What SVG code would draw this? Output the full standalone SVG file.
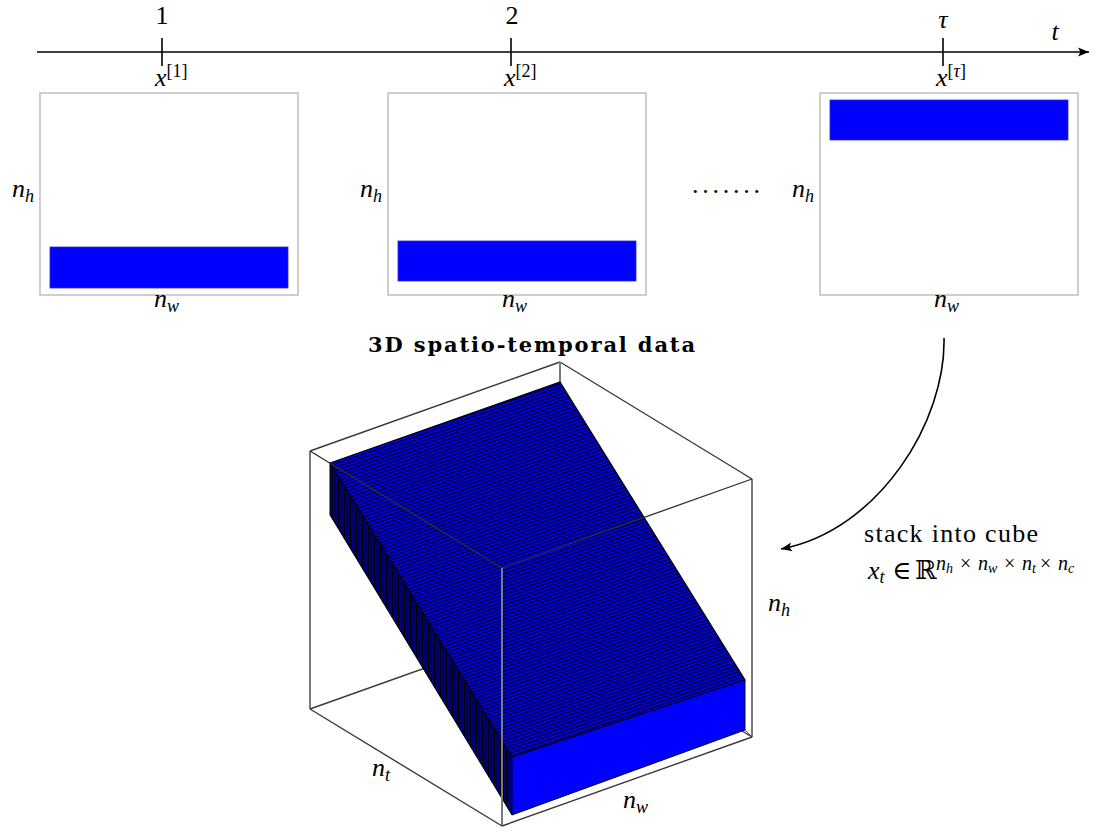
<svg xmlns="http://www.w3.org/2000/svg" width="1099" height="832" viewBox="0 0 1099 832">
<style>
.t{font-family:"Liberation Serif","DejaVu Serif",serif;font-size:26px;fill:#000}
.i{font-style:italic}
.s{font-size:18px}
.ss{font-size:14px}
.sp{font-size:20px}
.b{font-family:"DejaVu Serif","Liberation Serif",serif;font-weight:bold;font-size:21px}
.frame{fill:#fff;stroke:#c6c6c6;stroke-width:1.7}
.bar{fill:#0000ff;stroke:#2a2ad0;stroke-width:0.8}
.ax{stroke:#000;stroke-width:1.6;fill:none}
.back{stroke:#3a3a3a;stroke-width:1.4;fill:none}
.vert{stroke:#7a7a7a;stroke-width:2;fill:none}
.front{stroke:#303030;stroke-width:1.3;fill:none}
</style>
<defs>
<marker id="arr" markerUnits="userSpaceOnUse" markerWidth="12" markerHeight="10" refX="11" refY="5" orient="auto">
<path d="M0,0.5 L11,5 L0,9.5 L2.5,5 Z" fill="#000"/>
</marker>
<pattern id="topPat" patternUnits="userSpaceOnUse" width="40" height="3.3" patternTransform="rotate(-18.8)">
<rect width="40" height="3.3" fill="#0000e4"/>
<rect y="2.1" width="40" height="1.2" fill="#000010"/>
</pattern>
<pattern id="sidePat" patternUnits="userSpaceOnUse" width="3" height="10">
<rect width="3" height="10" fill="#00006e"/>
<rect x="2" width="1" height="10" fill="#000"/>
</pattern>
</defs>
<rect width="1099" height="832" fill="#fff"/>

<g id="axis">
<line class="ax" x1="37" y1="52" x2="1089" y2="52" marker-end="url(#arr)"/>
<line class="ax" x1="162" y1="38" x2="162" y2="66"/>
<line class="ax" x1="511" y1="38" x2="511" y2="66"/>
<line class="ax" x1="943" y1="38" x2="943" y2="66"/>
<text class="t" x="162" y="24" text-anchor="middle">1</text>
<text class="t" x="512" y="24" text-anchor="middle">2</text>
<text class="t i" x="943" y="28" text-anchor="middle">τ</text>
<text class="t i" x="1055" y="40" text-anchor="middle">t</text>
</g>

<g id="frame1">
<text class="t" x="155" y="86"><tspan class="i">x</tspan><tspan class="s" dy="-9">[1]</tspan></text>
<rect class="frame" x="40" y="93" width="258" height="202"/>
<rect class="bar" x="50" y="247" width="238" height="41"/>
<text class="t i" x="12" y="197">n<tspan class="s" dy="5">h</tspan></text>
<text class="t i" x="154" y="307">n<tspan class="s" dy="5">w</tspan></text>
</g>

<g id="frame2">
<text class="t" x="504" y="86"><tspan class="i">x</tspan><tspan class="s" dy="-9">[2]</tspan></text>
<rect class="frame" x="388" y="93" width="258" height="202"/>
<rect class="bar" x="398" y="241" width="238" height="40"/>
<text class="t i" x="360" y="197">n<tspan class="s" dy="5">h</tspan></text>
<text class="t i" x="502" y="307">n<tspan class="s" dy="5">w</tspan></text>
</g>

<g id="dots">
<text class="t" x="692" y="193" textLength="68" lengthAdjust="spacing">.......</text>
</g>

<g id="frame3">
<text class="t" x="936" y="86"><tspan class="i">x</tspan><tspan class="s" dy="-9">[<tspan class="i">τ</tspan>]</tspan></text>
<rect class="frame" x="820" y="93" width="258" height="202"/>
<rect class="bar" x="830" y="100" width="238" height="40"/>
<text class="t i" x="792" y="197">n<tspan class="s" dy="5">h</tspan></text>
<text class="t i" x="934" y="307">n<tspan class="s" dy="5">w</tspan></text>
</g>

<g id="cube">
<text class="b" x="368" y="352" textLength="327" lengthAdjust="spacing">3D spatio-temporal data</text>
<g id="cube-back">
<line class="back" x1="560" y1="362" x2="310" y2="451"/>
<line class="back" x1="560" y1="362" x2="752" y2="479"/>
<line class="vert" x1="560" y1="362" x2="560" y2="620"/>
<line class="vert" x1="310" y1="451" x2="310" y2="709"/>
<line class="vert" x1="752" y1="479" x2="752" y2="737"/>
<line class="back" x1="560" y1="620" x2="310" y2="709"/>
<line class="back" x1="560" y1="620" x2="752" y2="737"/>
</g>
<g id="slab">
<polygon points="330,463 330,515 512,815 512,757" fill="url(#sidePat)" stroke="#000" stroke-width="1"/>
<polygon points="330,463 560,382 745,680 512,757" fill="url(#topPat)" stroke="#000" stroke-width="1.2"/>
<polygon points="512,757 745,680 745,730 512,815" fill="#0000ff" stroke="#000" stroke-width="0.9"/>
<line x1="745" y1="730" x2="752" y2="737" stroke="#555" stroke-width="1"/>
</g>
<g id="cube-front">
<line class="front" x1="310" y1="451" x2="502" y2="568"/>
<line class="front" x1="502" y1="568" x2="752" y2="479"/>
<line class="vert" x1="502" y1="568" x2="502" y2="826" stroke="#555"/>
<line class="back" x1="310" y1="709" x2="502" y2="826"/>
<line class="back" x1="502" y1="826" x2="752" y2="737"/>
</g>
<text class="t i" x="768" y="611">n<tspan class="s" dy="5">h</tspan></text>
<text class="t i" x="372" y="776">n<tspan class="s" dy="5">t</tspan></text>
<text class="t i" x="623" y="808">n<tspan class="s" dy="5">w</tspan></text>
</g>

<g id="connectors">
<path d="M944,338 C946,420 880,530 781,549" class="ax" marker-end="url(#arr)"/>
</g>

<g id="stack-label">
<text class="t" x="864" y="542" textLength="174" lengthAdjust="spacing">stack into cube</text>
<text class="t" y="579"><tspan x="868" class="i">x</tspan><tspan class="s i" dy="4">t</tspan><tspan x="892" dy="-4">∈</tspan><tspan x="915">ℝ</tspan></text>
<text class="t sp" y="570"><tspan x="936" class="i">n</tspan><tspan class="ss i" dy="3">h</tspan><tspan x="960" dy="-3">×</tspan><tspan x="978" class="i">n</tspan><tspan class="ss i" dy="3">w</tspan><tspan x="1004" dy="-3">×</tspan><tspan x="1022" class="i">n</tspan><tspan class="ss i" dy="3">t</tspan><tspan x="1040" dy="-3">×</tspan><tspan x="1058" class="i">n</tspan><tspan class="ss i" dy="3">c</tspan></text>
</g>
</svg>
